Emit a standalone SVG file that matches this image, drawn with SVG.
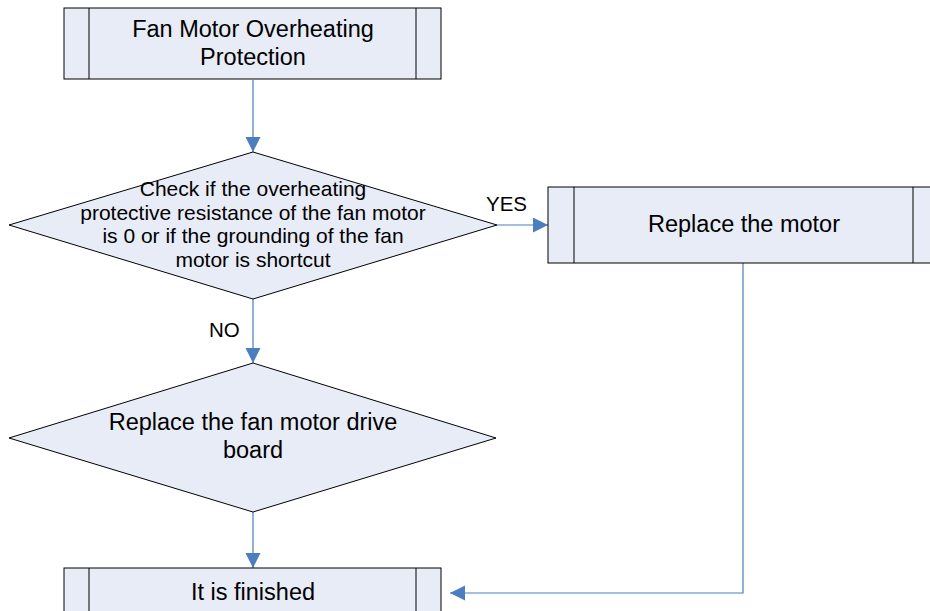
<svg xmlns="http://www.w3.org/2000/svg" width="930" height="611" viewBox="0 0 930 611">
<defs>
<marker id="ah" markerUnits="userSpaceOnUse" markerWidth="16" markerHeight="16" refX="15" refY="7.5" orient="auto">
<path d="M0,0 L15,7.5 L0,15 Z" fill="#4A7EBF"/>
</marker>
</defs>
<style>
.shape{fill:#E7ECF7;stroke:#000;stroke-width:1}
.bar{stroke:#000;stroke-width:1}
.conn{fill:none;stroke:#4A7EBF;stroke-width:1.2}
.t{font-family:"Liberation Sans",Arial,sans-serif;fill:#000;text-anchor:middle}
.big{font-size:23.5px}
.mid{font-size:21px}
.lbl{font-size:20.5px;font-family:"Liberation Sans",Arial,sans-serif;fill:#000}
</style>
<rect width="930" height="611" fill="#fff"/>
<g id="connectors">
<line class="conn" x1="253" y1="80" x2="253" y2="152" marker-end="url(#ah)"/>
<line class="conn" x1="497" y1="225" x2="548" y2="225" marker-end="url(#ah)"/>
<line class="conn" x1="253" y1="299" x2="253" y2="363" marker-end="url(#ah)"/>
<line class="conn" x1="253" y1="512" x2="253" y2="568" marker-end="url(#ah)"/>
<polyline class="conn" points="743,260 743,593 450,593" marker-end="url(#ah)"/>
<text class="lbl" x="486" y="211">YES</text>
<text class="lbl" x="209" y="337">NO</text>
</g>
<g id="start">
<rect class="shape" x="64" y="8" width="377" height="71"/>
<line class="bar" x1="89" y1="8" x2="89" y2="79"/>
<line class="bar" x1="416" y1="8" x2="416" y2="79"/>
<text class="t big" x="253" y="37">Fan Motor Overheating</text>
<text class="t big" x="253" y="65">Protection</text>
</g>
<g id="check">
<polygon class="shape" points="253,152 497,225 253,299 9,225"/>
<text class="t mid" x="253" y="196">Check if the overheating</text>
<text class="t mid" x="253" y="220">protective resistance of the fan motor</text>
<text class="t mid" x="253" y="243">is 0 or if the grounding of the fan</text>
<text class="t mid" x="253" y="267">motor is shortcut</text>
</g>
<g id="replace-motor">
<rect class="shape" x="548" y="187" width="390" height="76"/>
<line class="bar" x1="574" y1="187" x2="574" y2="263"/>
<line class="bar" x1="913" y1="187" x2="913" y2="263"/>
<text class="t big" x="744" y="232">Replace the motor</text>
</g>
<g id="replace-board">
<polygon class="shape" points="253,363 496,438 253,512 9,438"/>
<text class="t big" x="253" y="430">Replace the fan motor drive</text>
<text class="t big" x="253" y="458">board</text>
</g>
<g id="finished">
<rect class="shape" x="64" y="568" width="377" height="71"/>
<line class="bar" x1="89" y1="568" x2="89" y2="639"/>
<line class="bar" x1="416" y1="568" x2="416" y2="639"/>
<text class="t big" x="253" y="600">It is finished</text>
</g>
</svg>
